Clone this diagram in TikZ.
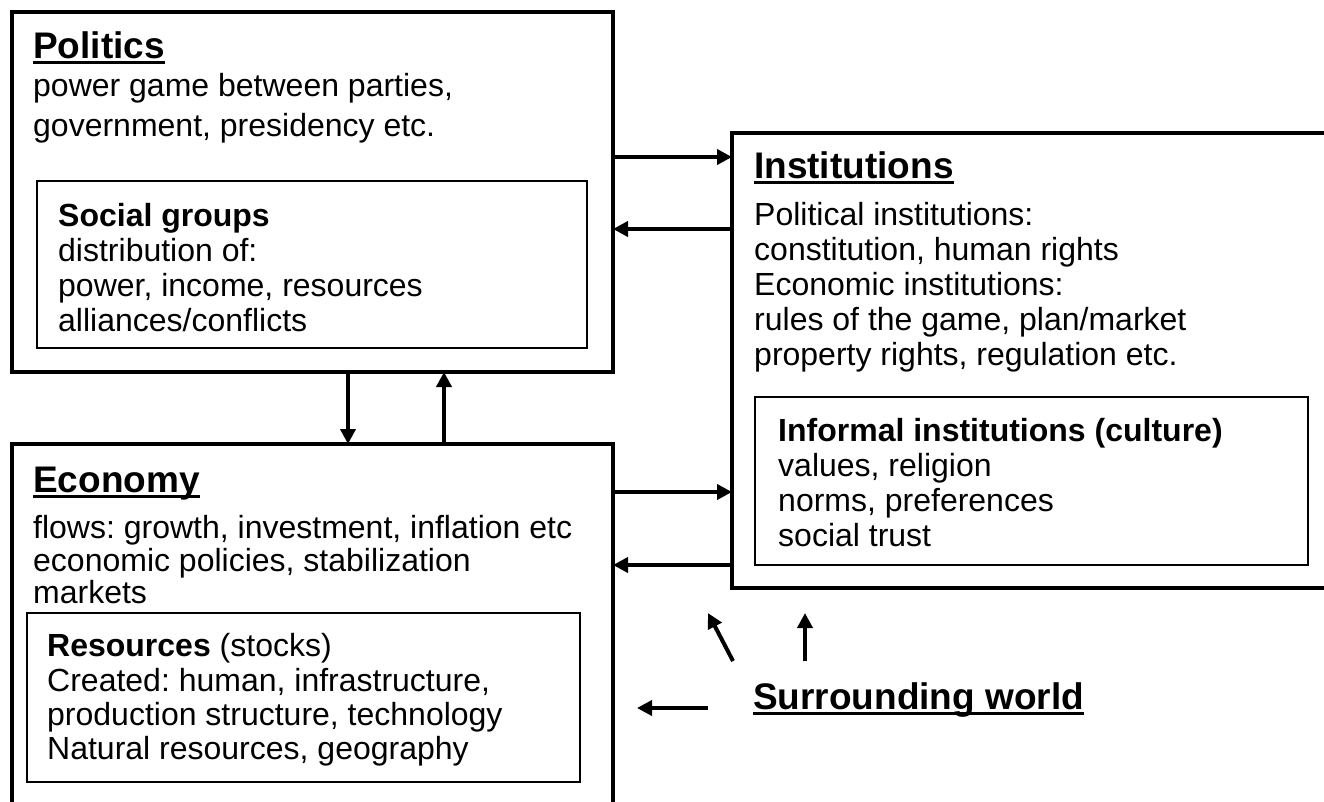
\documentclass[tikz,border=0pt]{standalone}
\usepackage{fontspec}
\setmainfont{Liberation Sans}
\usetikzlibrary{arrows.meta}
\frenchspacing
\newcommand\myul[1]{\setbox0\hbox{#1}\rlap{\rule[-0.16em]{\wd0}{0.085em}}\box0}
\begin{document}
\begin{tikzpicture}[x=1pt,y=-1pt,
 boxo/.style={draw, line width=4pt, anchor=north west, inner sep=0pt, outer sep=0pt},
 boxi/.style={draw, line width=1.8pt, anchor=north west, inner sep=0pt, outer sep=0pt},
 ttl/.style={anchor=base west, inner sep=0pt, font={\fontsize{37}{40}\selectfont\bfseries}},
 txt/.style={anchor=base west, inner sep=0pt, font={\fontsize{32}{35}\selectfont\frenchspacing}},
 subttl/.style={anchor=base west, inner sep=0pt, font={\fontsize{32}{35}\selectfont\bfseries}},
 arr/.style={line width=4pt, -{Triangle[length=15pt,width=15pt]}}]
\useasboundingbox (0,0) rectangle (1324,801);
\clip (0,0) rectangle (1324,801);
% boxes
\node[boxo, minimum width=601pt, minimum height=360pt] (pol) at (12,12) {};
\node[boxi, minimum width=550pt, minimum height=167pt] (soc) at (37,181) {};
\node[boxo, minimum width=620pt, minimum height=455pt] (inst) at (732,133) {};
\node[boxi, minimum width=553pt, minimum height=168pt] (inf) at (755,397) {};
\node[boxo, minimum width=601pt, minimum height=420pt] (eco) at (12,444) {};
\node[boxi, minimum width=553pt, minimum height=169pt] (res) at (27,613) {};
% politics
\node[ttl] (polt) at (33,58) {\myul{Politics}};
\node[txt] (pol1) at (33,96) {power game between parties,};
\node[txt] (pol2) at (33,136) {government, presidency etc.};
\node[subttl] (soct) at (58,226) {Social groups};
\node[txt] (soc1) at (58,261) {distribution of:};
\node[txt] (soc2) at (58,296) {power, income, resources};
\node[txt] (soc3) at (58,331) {alliances/conflicts};
% institutions
\node[ttl] (instt) at (754,178) {\myul{Institutions}};
\node[txt] (inst1) at (754,225) {Political institutions:};
\node[txt] (inst2) at (754,260) {constitution, human rights};
\node[txt] (inst3) at (754,295) {Economic institutions:};
\node[txt] (inst4) at (754,330) {rules of the game, plan/market};
\node[txt] (inst5) at (754,365) {property rights, regulation etc.};
\node[subttl] (inft) at (778,441) {Informal institutions (culture)};
\node[txt] (inf1) at (778,476) {values, religion};
\node[txt] (inf2) at (778,511) {norms, preferences};
\node[txt] (inf3) at (778,546) {social trust};
% economy
\node[ttl] (ecot) at (33,492) {\myul{Economy}};
\node[txt] (eco1) at (33,538) {flows: growth, investment, inflation etc};
\node[txt] (eco2) at (33,571) {economic policies, stabilization};
\node[txt] (eco3) at (33,603) {markets};
\node[txt] (rest) at (47,656) {\textbf{Resources} (stocks)};
\node[txt] (res1) at (47,691) {Created: human, infrastructure,};
\node[txt] (res2) at (47,725) {production structure, technology};
\node[txt] (res3) at (47,759) {Natural resources, geography};
% surrounding world
\node[ttl] (surr) at (753,709) {\myul{Surrounding world}};
\coordinate (s1a) at (708,708);
\coordinate (s1b) at (637,708);
\coordinate (s2a) at (733,661);
\coordinate (s2b) at (708,613);
\coordinate (s3a) at (805,661);
\coordinate (s3b) at (805,613);
% connectors
\draw[arr] (pol.east |- 0,157) -- (inst.west |- 0,157);
\draw[arr] (inst.west |- 0,229) -- (pol.east |- 0,229);
\draw[arr] (eco.east |- 0,492) -- (inst.west |- 0,492);
\draw[arr] (inst.west |- 0,565) -- (eco.east |- 0,565);
\draw[arr] (pol.south -| 348,0) -- (eco.north -| 348,0);
\draw[arr] (eco.north -| 444,0) -- (pol.south -| 444,0);
\draw[arr] (s1a) -- (s1b);
\draw[arr] (s2a) -- (s2b);
\draw[arr] (s3a) -- (s3b);
\end{tikzpicture}
\end{document}
